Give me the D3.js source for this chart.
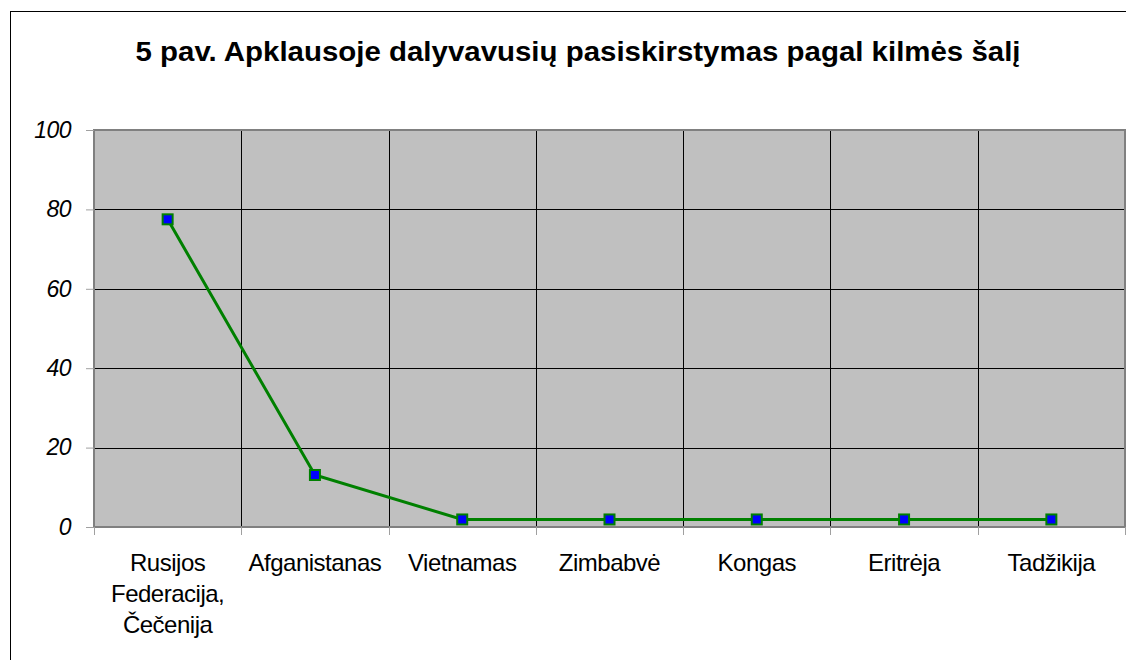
<!DOCTYPE html>
<html>
<head>
<meta charset="utf-8">
<script src="https://cdn.jsdelivr.net/npm/d3@7"></script>
<style>
  body { margin: 0; background: #fff; }
  text { font-family: "Liberation Sans", Arial, sans-serif; fill: #000; }
</style>
</head>
<body>
<div id="chart"></div>
<script>
var titleText = '5 pav. Apklausoje dalyvavusių pasiskirstymas pagal kilmės šalį';
var categories = ['Rusijos Federacija, Čečenija', 'Afganistanas', 'Vietnamas', 'Zimbabvė', 'Kongas', 'Eritrėja', 'Tadžikija'];
var categoryLines = [['Rusijos', 'Federacija,', 'Čečenija'], ['Afganistanas'], ['Vietnamas'], ['Zimbabvė'], ['Kongas'], ['Eritrėja'], ['Tadžikija']];
var values = [77.5, 13.1, 1.9, 1.9, 1.9, 1.9, 1.9];
var yTicks = [0, 20, 40, 60, 80, 100];

var width = 1126;
var height = 660;
var plotLeft = 94, plotRight = 1125, plotTop = 130, plotBottom = 527;

var svg = d3.select('#chart')
    .append('svg')
    .attr('width', width)
    .attr('height', height);

// outer chart border
svg.append('rect')
    .attr('x', 10.5)
    .attr('y', 11.5)
    .attr('width', width)
    .attr('height', height)
    .attr('fill', 'none')
    .attr('stroke', '#000')
    .attr('stroke-width', 1);

svg.append('text')
    .attr('x', 578)
    .attr('y', 61)
    .attr('text-anchor', 'middle')
    .attr('font-size', 28)
    .attr('font-weight', 'bold')
    .attr('textLength', 885)
    .attr('lengthAdjust', 'spacingAndGlyphs')
    .text(titleText);

var x = d3.scaleBand()
    .domain(categories)
    .range([plotLeft, plotRight])
    .padding(0);

var y = d3.scaleLinear()
    .domain([0, 100])
    .range([plotBottom, plotTop]);

svg.append('rect')
    .attr('x', plotLeft)
    .attr('y', plotTop)
    .attr('width', plotRight - plotLeft)
    .attr('height', plotBottom - plotTop)
    .attr('fill', '#c0c0c0');

// horizontal grid
svg.selectAll('.hgrid')
    .data(yTicks.filter(function (d) {return d > 0 && d < 100;}))
    .enter()
    .append('line')
    .attr('class', 'hgrid')
    .attr('x1', plotLeft)
    .attr('x2', plotRight)
    .attr('y1', function (d) {return Math.round(y(d)) + 0.5;})
    .attr('y2', function (d) {return Math.round(y(d)) + 0.5;})
    .attr('stroke', '#000')
    .attr('stroke-width', 1);

// vertical grid at category boundaries
svg.selectAll('.vgrid')
    .data(categories.slice(1))
    .enter()
    .append('line')
    .attr('class', 'vgrid')
    .attr('x1', function (d) {return Math.round(x(d)) + 0.5;})
    .attr('x2', function (d) {return Math.round(x(d)) + 0.5;})
    .attr('y1', plotTop)
    .attr('y2', plotBottom)
    .attr('stroke', '#000')
    .attr('stroke-width', 1);

// plot border
svg.append('rect')
    .attr('x', plotLeft)
    .attr('y', plotTop)
    .attr('width', plotRight - plotLeft)
    .attr('height', plotBottom - plotTop)
    .attr('fill', 'none')
    .attr('stroke', '#808080')
    .attr('stroke-width', 2);

// y axis
var yAxis = d3.axisLeft(y)
    .tickValues(yTicks)
    .tickSize(8)
    .tickPadding(15);

var gy = svg.append('g')
    .attr('transform', 'translate(' + plotLeft + ',0)')
    .call(yAxis);
gy.select('.domain').remove();
gy.selectAll('.tick line').attr('stroke', '#a0a0a0');
gy.selectAll('.tick text')
    .attr('font-size', 23)
    .attr('font-style', 'italic')
    .attr('font-family', '"Liberation Sans", Arial, sans-serif')
    .attr('letter-spacing', -0.5);

// x axis ticks at boundaries
svg.selectAll('.xtick')
    .data(categories.concat(['end']))
    .enter()
    .append('line')
    .attr('class', 'xtick')
    .attr('x1', function (d, i) {return Math.round(plotLeft + i * x.bandwidth()) + 0.5;})
    .attr('x2', function (d, i) {return Math.round(plotLeft + i * x.bandwidth()) + 0.5;})
    .attr('y1', plotBottom)
    .attr('y2', plotBottom + 8)
    .attr('stroke', '#a0a0a0');

// category labels
var labels = svg.selectAll('.xlabel')
    .data(categories)
    .enter()
    .append('text')
    .attr('class', 'xlabel')
    .attr('text-anchor', 'middle')
    .attr('font-size', 24)
    .attr('letter-spacing', -0.5);

labels.each(function (d, i) {
    var t = d3.select(this);
    categoryLines[i].forEach(function (line, j) {
        t.append('tspan')
            .attr('x', x(d) + x.bandwidth() / 2)
            .attr('y', 571 + j * 31)
            .text(line);
    });
});

var line = d3.line()
    .x(function (d, i) {return x(categories[i]) + x.bandwidth() / 2;})
    .y(function (d) {return y(d);});

svg.append('path')
    .datum(values)
    .attr('d', line)
    .attr('fill', 'none')
    .attr('stroke', '#008000')
    .attr('stroke-width', 3);

svg.selectAll('.marker')
    .data(values)
    .enter()
    .append('rect')
    .attr('class', 'marker')
    .attr('x', function (d, i) {return x(categories[i]) + x.bandwidth() / 2 - 5;})
    .attr('y', function (d) {return y(d) - 5;})
    .attr('width', 10)
    .attr('height', 10)
    .attr('fill', '#0000ff')
    .attr('stroke', '#008000')
    .attr('stroke-width', 2);
</script>
</body>
</html>
